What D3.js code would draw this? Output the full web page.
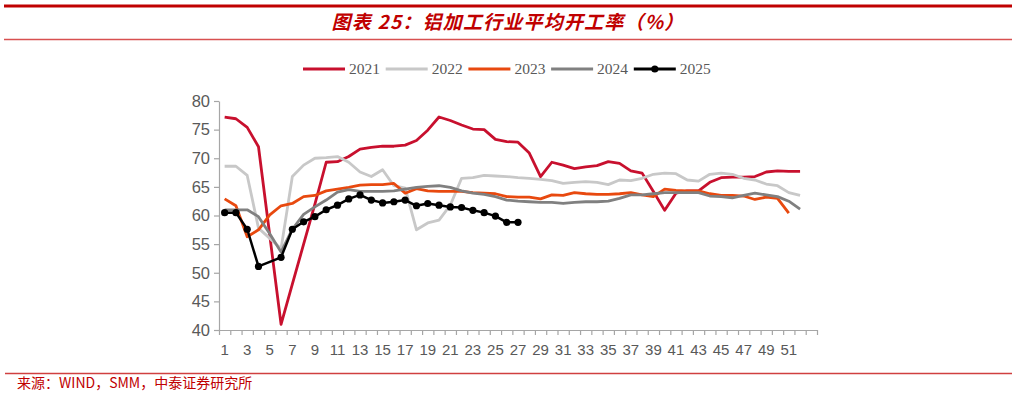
<!DOCTYPE html>
<html>
<head>
<meta charset="utf-8">
<script src="https://cdn.jsdelivr.net/npm/d3@7"></script>
<style>
    body { margin: 0; background: #fff; }
    svg { display: block; }
</style>
</head>
<body>
<div id="chart"></div>
<script>
//chart data
var weeks = [1, 2, 3, 4, 5, 6, 7, 8, 9, 10, 11, 12, 13, 14, 15, 16, 17, 18, 19, 20,
    21, 22, 23, 24, 25, 26, 27, 28, 29, 30, 31, 32, 33, 34, 35, 36, 37, 38, 39, 40,
    41, 42, 43, 44, 45, 46, 47, 48, 49, 50, 51, 52, 53]
var weekLabels = [1, 3, 5, 7, 9, 11, 13, 15, 17, 19, 21, 23, 25, 27, 29, 31, 33, 35, 37, 39, 41, 43, 45, 47, 49, 51]
var yTicks = [40, 45, 50, 55, 60, 65, 70, 75, 80]
var years = ['2021', '2022', '2023', '2024', '2025']

var y2021 = [77.2, 76.9, 75.4, 72.0, 56.5, 41.0, 48.0, 55.0, 62.0, 69.3,
    69.4, 70.3, 71.6, 71.9, 72.1, 72.1, 72.3, 73.1, 74.9, 77.2,
    76.6, 75.8, 75.1, 75.0, 73.3, 72.9, 72.8, 70.9, 66.8, 69.3,
    68.8, 68.2, 68.5, 68.7, 69.4, 69.1, 67.8, 67.4, 64.2, 60.9,
    63.9, 64.3, 64.3, 65.8, 66.6, 66.7, 66.7, 66.8, 67.6, 67.8,
    67.7, 67.7]
var y2022 = [68.6, 68.6, 67.0, 57.8, 56.0, 54.2, 66.8, 68.8, 70.0, 70.1,
    70.3, 69.3, 67.6, 66.8, 68.0, 65.2, 64.8, 57.5, 58.7, 59.2,
    61.8, 66.5, 66.6, 67.0, 66.9, 66.8, 66.6, 66.5, 66.3, 66.1,
    65.6, 65.8, 65.9, 65.8, 65.4, 66.2, 66.1, 66.5, 67.2, 67.4,
    67.3, 66.2, 66.0, 67.2, 67.4, 67.2, 66.5, 66.2, 65.5, 65.2,
    64.0, 63.5]
var y2023 = [62.9, 61.7, 56.3, 57.5, 60.1, 61.7, 62.1, 63.3, 63.5, 64.3,
    64.6, 64.9, 65.3, 65.4, 65.4, 65.6, 63.9, 64.7, 64.3, 64.2,
    64.2, 64.2, 64.0, 63.9, 63.8, 63.3, 63.2, 63.2, 62.9, 63.6,
    63.5, 64.0, 63.8, 63.7, 63.7, 63.8, 64.0, 63.6, 63.3, 64.6,
    64.4, 64.3, 64.3, 63.8, 63.5, 63.5, 63.4, 62.8, 63.2, 63.0,
    60.4]
var y2024 = [61.0, 61.0, 61.0, 59.8, 56.8, 53.6, 57.6, 60.2, 61.5, 62.7,
    64.1, 64.5, 64.2, 64.2, 64.2, 64.3, 64.6, 64.9, 65.1, 65.2,
    64.9, 64.3, 63.9, 63.7, 63.3, 62.7, 62.5, 62.4, 62.3, 62.3,
    62.1, 62.3, 62.4, 62.4, 62.5, 63.0, 63.6, 63.6, 63.8, 64.0,
    64.0, 64.0, 64.0, 63.4, 63.3, 63.1, 63.5, 63.9, 63.6, 63.3,
    62.5, 61.1]
var y2025 = [60.5, 60.5, 57.6, 51.1, null, 52.7, 57.6, 58.9, 59.8, 61.0,
    61.8, 62.9, 63.6, 62.7, 62.2, 62.4, 62.7, 61.7, 62.1, 61.8,
    61.5, 61.4, 60.9, 60.5, 59.9, 58.8, 58.8]

var colors = ['#C8102E', '#C8C8C8', '#E8490F', '#808080', '#000000']
var seriesList = [y2021, y2022, y2023, y2024, y2025]

//SVG size
var svgWidth = 1016;
var svgHeight = 397;
var plot = { left: 219, right: 817, top: 101, bottom: 330 };
var red = '#C00000';

var svg = d3.select("#chart")
    .append("svg")
    .attr("width", svgWidth)
    .attr("height", svgHeight);

//header: thick rule, title, thin rule
svg.append("line")
    .attr("x1", 4).attr("x2", 1012)
    .attr("y1", 6).attr("y2", 6)
    .attr("stroke", red)
    .attr("stroke-width", 3);

svg.append("text")
    .attr("x", 508)
    .attr("y", 29)
    .attr("text-anchor", "middle")
    .attr("font-family", "'Noto Sans CJK SC', sans-serif")
    .attr("font-size", 19)
    .attr("letter-spacing", 1.2)
    .attr("font-weight", "bold")
    .attr("font-style", "italic")
    .attr("fill", red)
    .text("图表 25：铝加工行业平均开工率（%）");

svg.append("line")
    .attr("x1", 4).attr("x2", 1012)
    .attr("y1", 39.5).attr("y2", 39.5)
    .attr("stroke", "#D85050")
    .attr("stroke-width", 1.5);

//scales
var xScale = d3.scaleBand()
    .domain(weeks)
    .range([plot.left, plot.right])
    .padding(0);
var xEdge = d3.scaleLinear()
    .domain([0.5, weeks.length + 0.5])
    .range([plot.left, plot.right]);
var yScale = d3.scaleLinear()
    .domain([40, 80])
    .range([plot.bottom, plot.top]);

var xMid = w => xScale(w) + xScale.bandwidth() / 2;

//x axis: tick marks on band edges, labels on odd weeks
var xTickGroup = svg.append("g")
    .attr("transform", `translate(0, ${plot.bottom})`)
    .call(d3.axisBottom(xEdge)
        .tickValues(d3.range(0.5, weeks.length + 1, 1))
        .tickFormat("")
        .tickSize(5)
        .tickSizeOuter(0));
xTickGroup.selectAll("line, path").attr("stroke", "#A6A6A6").attr("stroke-width", 1.2);

var xLabelGroup = svg.append("g")
    .attr("transform", `translate(0, ${plot.bottom})`)
    .call(d3.axisBottom(xScale)
        .tickValues(weekLabels)
        .tickSize(0)
        .tickPadding(14));
xLabelGroup.select(".domain").remove();
xLabelGroup.selectAll("text")
    .attr("font-family", "'Liberation Sans', Arial, sans-serif")
    .attr("font-size", 15)
    .attr("fill", "#595959");

//y axis
var yAxisGroup = svg.append("g")
    .attr("transform", `translate(${plot.left}, 0)`)
    .call(d3.axisLeft(yScale)
        .tickValues(yTicks)
        .tickSize(5)
        .tickSizeOuter(0)
        .tickPadding(4));
yAxisGroup.selectAll("line, path").attr("stroke", "#A6A6A6").attr("stroke-width", 1.2);
yAxisGroup.selectAll("text")
    .attr("font-family", "'Liberation Sans', Arial, sans-serif")
    .attr("font-size", 16.5)
    .attr("fill", "#595959");

//lines
var lineGen = d3.line()
    .x(d => xMid(d.w))
    .y(d => yScale(d.v));

seriesList.forEach((vals, i) => {
    //missing weeks are skipped but the line stays connected
    var pts = vals.map((v, j) => ({ w: weeks[j], v: v })).filter(p => p.v !== null);
    svg.append("path")
        .datum(pts)
        .attr("fill", "none")
        .attr("stroke", colors[i])
        .attr("stroke-width", i === 4 ? 2.5 : 2.8)
        .attr("stroke-linejoin", "round")
        .attr("d", lineGen);
    if (i === 4) {
        svg.selectAll(".dot")
            .data(pts)
            .enter()
            .append("circle")
            .attr("class", "dot")
            .attr("cx", d => xMid(d.w))
            .attr("cy", d => yScale(d.v))
            .attr("r", 3.6)
            .attr("fill", colors[i]);
    }
});

//legend
var legendX = 303;
var legendStep = 82.7;
var legend = svg.append("g").attr("transform", "translate(0, 69)");
years.forEach((yr, i) => {
    var x0 = legendX + i * legendStep;
    legend.append("line")
        .attr("x1", x0).attr("x2", x0 + 42)
        .attr("y1", 0).attr("y2", 0)
        .attr("stroke", colors[i])
        .attr("stroke-width", 3);
    if (i === 4) {
        legend.append("circle")
            .attr("cx", x0 + 21).attr("cy", 0)
            .attr("r", 3.6)
            .attr("fill", colors[i]);
    }
    legend.append("text")
        .attr("x", x0 + 46)
        .attr("y", 5)
        .attr("font-family", "'Liberation Serif', 'Times New Roman', serif")
        .attr("font-size", 15.5)
        .attr("fill", "#595959")
        .text(yr);
});

//footer
svg.append("line")
    .attr("x1", 5).attr("x2", 1012)
    .attr("y1", 373.5).attr("y2", 373.5)
    .attr("stroke", "#D04040")
    .attr("stroke-width", 1.5);

svg.append("text")
    .attr("x", 17)
    .attr("y", 388)
    .attr("font-family", "'Noto Sans CJK SC', sans-serif")
    .attr("font-size", 14)
    .attr("fill", red)
    .text("来源：WIND，SMM，中泰证券研究所");
</script>
</body>
</html>
